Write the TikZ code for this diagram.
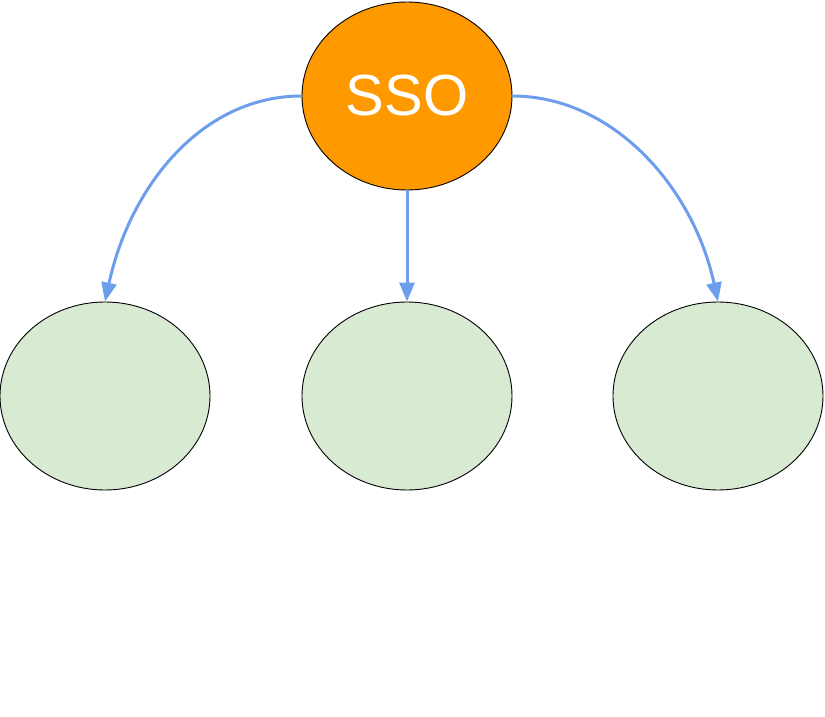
\documentclass[tikz,border=0pt]{standalone}
\usepackage{fontspec}
\setmainfont{Liberation Sans}
\usetikzlibrary{shapes.geometric,arrows.meta}
\definecolor{ssoorange}{HTML}{FF9900}
\definecolor{leafgreen}{HTML}{D9EAD3}
\definecolor{linkblue}{HTML}{6D9EEB}
\begin{document}
\begin{tikzpicture}[x=1pt,y=-1pt,
  blob/.style={ellipse,draw=black,line width=0.9pt,minimum width=210pt,minimum height=188pt,inner sep=0pt},
  root/.style={blob,fill=ssoorange,text=white,font=\fontsize{58}{60}\selectfont},
  leaf/.style={blob,fill=leafgreen},
  link/.style={draw=linkblue,line width=3pt,-{Triangle[width=15pt,length=19pt]}}]
\useasboundingbox (0,0) rectangle (825,717);
\node[root] (sso) at (407,96) {SSO};
\node[leaf] (l) at (105,396) {};
\node[leaf] (m) at (407,396) {};
\node[leaf] (r) at (718,396) {};
\draw[link] (sso.west) .. controls +(-100,0) and +(25,-115) .. (l.north);
\draw[link] (sso.south) -- (m.north);
\draw[link] (sso.east) .. controls +(100,0) and +(-25,-115) .. (r.north);
\end{tikzpicture}
\end{document}
